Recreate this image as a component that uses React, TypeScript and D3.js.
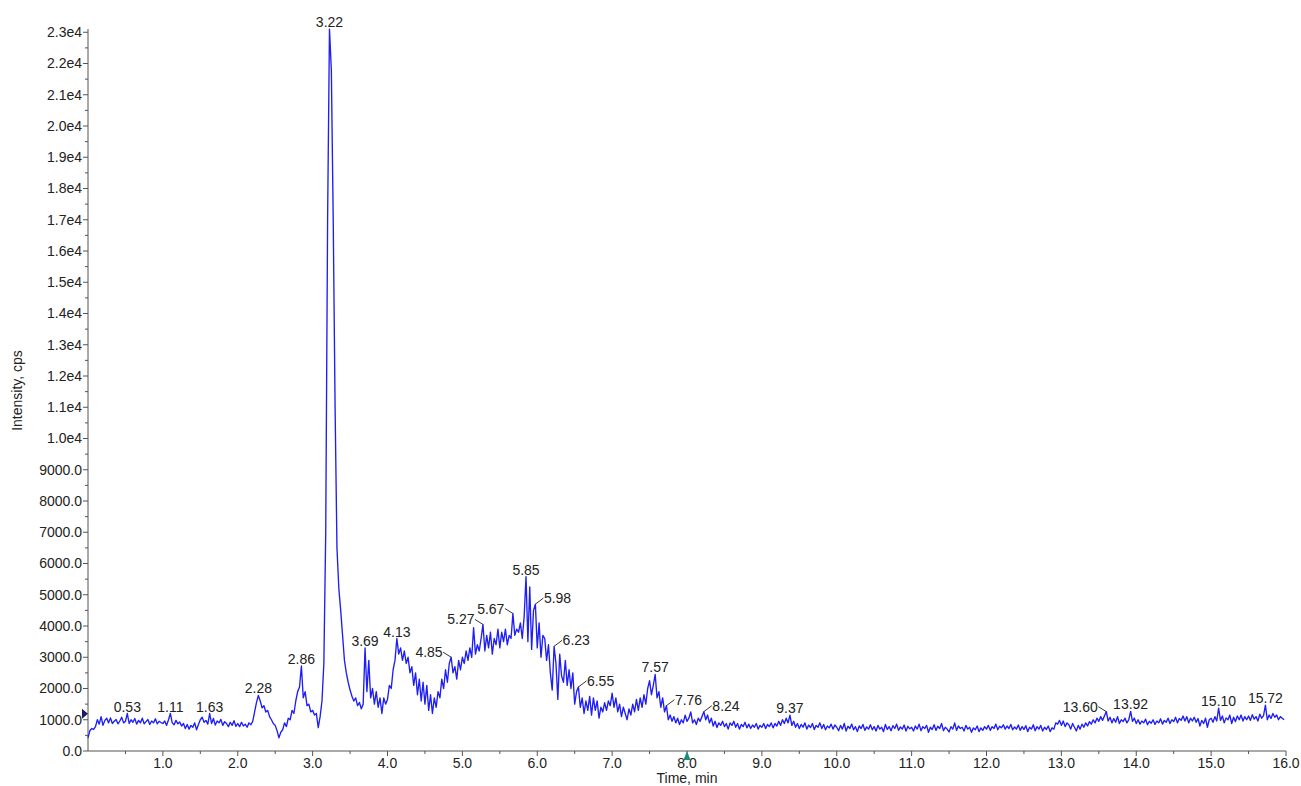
import React from "react";
import * as d3 from "d3";

// Total ion chromatogram: one intensity reading every SCAN_STEP minutes from SCAN_START.
const SCAN_START = 0;
const SCAN_STEP = 0.025;

const intensity: number[] = [
  // 0.0 – 0.475
  420, 650, 720, 690, 780, 1000, 860, 1100, 820, 980, 1050, 900, 1060, 880, 950, 1010, 870, 960, 1080, 900,
  // 0.5 – 0.975
  950, 1200, 880, 1000, 920, 1040, 860, 980, 900, 1050, 870, 940, 1010, 850, 960, 900, 1030, 870, 950, 910,
  // 1.0 – 1.475
  880, 960, 820, 1000, 1200, 900, 840, 980, 870, 930, 800, 880, 720, 850, 700, 820, 760, 900, 680, 850,
  // 1.5 – 1.975
  1000, 1080, 920, 980, 860, 1200, 880, 1040, 830, 960, 900, 1010, 820, 940, 880, 780, 920, 820, 970, 790,
  // 2.0 – 2.475
  880, 780, 920, 800, 860, 760, 900, 840, 950, 1250, 1550, 1780, 1600, 1380, 1450, 1250, 1300, 1100, 1000, 880,
  // 2.5 – 2.975
  820, 650, 420, 600, 680, 900, 780, 1050, 1000, 1300, 1200, 1600, 1900, 2050, 2720, 1700, 1900, 1450, 1500, 1250,
  // 3.0 – 3.475
  1300, 1150, 1200, 750, 1100, 1600, 2800, 7000, 17000, 23100, 21800, 17000, 11000, 6500, 5200, 4500, 3700, 2900, 2500, 2200,
  // 3.5 – 3.975
  1950, 1750, 1600, 1700, 1450, 1550, 1350, 1500, 3300, 1900, 2900, 1700, 2000, 1500, 1900, 1400, 1700, 1200, 1700, 1500,
  // 4.0 – 4.475
  1650, 2100, 2000, 2600, 2900, 3600, 3100, 3300, 2900, 3200, 2800, 3000, 2500, 2700, 2100, 2500, 1800, 2300, 1600, 2200,
  // 4.5 – 4.975
  1500, 2100, 1300, 1800, 1200, 1700, 1400, 1900, 1700, 2300, 2000, 2600, 2200, 2800, 3000, 2500, 2700, 2300, 2900, 2600,
  // 5.0 – 5.475
  3000, 2800, 3200, 2900, 3300, 3000, 3950, 3100, 3400, 3200, 3600, 4050, 3200, 3700, 3300, 3800, 3100, 3600, 3400, 3900,
  // 5.5 – 5.975
  3300, 3800, 3500, 3900, 3400, 3700, 3600, 4400, 3700, 3900, 3800, 4100, 3600, 4300, 5580, 3500, 5250, 3250, 4500, 4700,
  // 6.0 – 6.475
  3300, 4100, 3000, 3700, 3600, 2900, 3400, 2500, 1950, 3350, 2800, 1650, 3100, 2400, 2200, 2900, 2100, 2600, 2000, 2500,
  // 6.5 – 6.975
  1500, 1900, 2050, 1400, 1700, 1200, 1600, 1300, 1750, 1150, 1700, 1300, 1600, 1050, 1400, 1250, 1550, 1300, 1600, 1450,
  // 7.0 – 7.475
  1850, 1400, 1700, 1250, 1500, 1100, 1400, 1200, 1000, 1350, 1150, 1500, 1250, 1650, 1300, 1700, 1400, 1800, 1500, 2000,
  // 7.5 – 7.975
  2250, 1800, 2100, 2450, 1700, 1900, 1400, 1700, 1250, 1450, 1000, 1150, 950, 1100, 900, 1050, 850, 1000, 900, 1150,
  // 8.0 – 8.475
  950, 1050, 1250, 900, 1000, 850, 1050, 950, 1100, 1260, 1000, 1150, 900, 1050, 800, 950, 750, 900, 820, 950,
  // 8.5 – 8.975
  780, 880, 700, 900, 820, 950, 760, 880, 700, 850, 780, 920, 740, 860, 720, 830, 760, 880, 700, 820,
  // 9.0 – 9.475
  760, 880, 720, 850, 780, 900, 740, 880, 800, 950, 820, 1000, 880, 1050, 900, 1150, 820, 950, 760, 880,
  // 9.5 – 9.975
  720, 850, 760, 900, 700, 830, 750, 880, 690, 820, 760, 900, 720, 850, 680, 800, 740, 860, 700, 830,
  // 10.0 – 10.475
  760, 650, 820, 700, 880, 640, 790, 720, 860, 680, 780, 620, 800, 720, 850, 660, 770, 700, 840, 680,
  // 10.5 – 10.975
  780, 640, 820, 700, 760, 620, 850, 690, 780, 650, 810, 720, 860, 660, 770, 700, 830, 640, 790, 710,
  // 11.0 – 11.475
  760, 640, 800, 700, 860, 650, 780, 720, 820, 600, 760, 690, 840, 660, 790, 720, 880, 650, 760, 700,
  // 11.5 – 11.975
  610, 780, 700, 900, 660, 800, 720, 760, 640, 820, 700, 760, 600, 740, 680, 800, 620, 740, 660, 780,
  // 12.0 – 12.475
  700, 820, 660, 780, 720, 860, 680, 790, 740, 840, 700, 800, 720, 850, 680, 770, 700, 830, 660, 780,
  // 12.5 – 12.975
  690, 810, 620, 760, 700, 840, 650, 780, 700, 820, 640, 760, 690, 800, 620, 740, 700, 900, 860, 980,
  // 13.0 – 13.475
  820, 960, 780, 900, 840, 700, 880, 760, 640, 820, 700, 860, 760, 900, 800, 940, 860, 1000, 900, 1050,
  // 13.5 – 13.975
  950, 1100, 980, 1120, 1260, 960, 1080, 900, 1040, 920, 1100, 880, 1000, 940, 1050, 900, 1000, 1270, 950, 1050,
  // 14.0 – 14.475
  880, 1000, 860, 960, 900, 1020, 840, 950, 890, 1000, 850, 960, 900, 1030, 860, 980, 920, 1050, 880, 1000,
  // 14.5 – 14.975
  940, 1080, 900, 1040, 980, 1120, 960, 1100, 900, 1050, 960, 1080, 920, 1040, 800, 980, 880, 1050, 760, 1000,
  // 15.0 – 15.475
  1050, 920, 1100, 960, 1370, 980, 1120, 900, 1060, 1000, 1150, 880, 1080, 940, 1120, 1000, 1150, 960, 1100, 1000,
  // 15.5 – 15.975
  1120, 980, 1160, 1020, 1100, 960, 1180, 1050, 1130, 1470, 1000, 1150, 1040, 1200, 1080, 1150, 1000, 1100, 1050, 1000,
];

// Axis ticks
const xTickValues = [1, 2, 3, 4, 5, 6, 7, 8, 9, 10, 11, 12, 13, 14, 15, 16];
const xMinorTickValues = [0.5, 1.5, 2.5, 3.5, 4.5, 5.5, 6.5, 7.5, 8.5, 9.5, 10.5, 11.5, 12.5, 13.5, 14.5, 15.5];
const yTickValues = [
  0, 1000, 2000, 3000, 4000, 5000, 6000, 7000, 8000, 9000, 10000, 11000,
  12000, 13000, 14000, 15000, 16000, 17000, 18000, 19000, 20000, 21000, 22000, 23000,
];

// Retention times annotated on the trace
const peakLabels = [
  "0.53", "1.11", "1.63", "2.28", "2.86", "3.22", "3.69", "4.13", "5.85",
  "7.57", "9.37", "13.92", "15.10", "15.72",
];
const peakLabelsLeaderLeft = ["4.85", "5.27", "5.67", "13.60"];
const peakLabelsLeaderRight = ["5.98", "6.23", "6.55", "7.76", "8.24"];

// Threshold marker on the intensity axis and cursor marker on the time axis
const thresholdMarker = 1190;
const timeCursor = 8.0;

const FONT = "'Liberation Sans', Arial, sans-serif";
const TEXT = "#222";
const AXIS = "#555";
const TRACE = "#1e1ef5";

export default function App() {
  const width = 1301;
  const height = 786;
  const plotLeft = 88;
  const plotRight = 1286;
  const plotBottom = 751;

  const x = d3.scaleLinear().domain([0, 16]).range([plotLeft, plotRight]);
  const y = d3.scaleLinear().domain([0, 23000]).range([plotBottom, 32.25]);

  const points: [number, number][] = intensity.map((v, i) => [SCAN_START + i * SCAN_STEP, v]);
  const linePath = d3
    .line<[number, number]>()
    .x((d) => x(d[0]))
    .y((d) => y(d[1]))(points) as string;

  // apex of the trace near a labelled retention time
  const apex = (label: string) => {
    const t = +label;
    let best: [number, number] | null = null;
    for (const p of points) {
      if (Math.abs(p[0] - t) <= 0.041 && (!best || p[1] > best[1])) best = p;
    }
    return best as [number, number];
  };

  const yMinor = d3.range(500, 23000, 1000);
  const fmtY = (v: number) => (v < 10000 ? v.toFixed(1) : (v / 10000).toFixed(1) + "e4");

  return (
    <svg
      width={width}
      height={height}
      style={{ position: "absolute", left: 0, top: 0, background: "#fff" }}
      fontFamily={FONT}
    >
      <rect x={0} y={0} width={width} height={height} fill="#fff" />

      {/* intensity axis */}
      <line x1={plotLeft} x2={plotLeft} y1={plotBottom} y2={29} stroke={AXIS} strokeWidth={1} />
      {yTickValues.map((v) => (
        <g key={"yt" + v}>
          <line x1={plotLeft - 5} x2={plotLeft} y1={y(v)} y2={y(v)} stroke={AXIS} strokeWidth={1} />
          <text x={plotLeft - 6} y={y(v)} dy="0.35em" textAnchor="end" fontSize={14} fill={TEXT}>
            {fmtY(v)}
          </text>
        </g>
      ))}
      {yMinor.map((v) => (
        <line key={"ym" + v} x1={plotLeft - 3} x2={plotLeft} y1={y(v)} y2={y(v)} stroke={AXIS} strokeWidth={1} />
      ))}
      <text
        transform={`translate(22, ${(plotBottom + 30) / 2}) rotate(-90)`}
        textAnchor="middle"
        fontSize={14}
        fill={TEXT}
      >
        Intensity, cps
      </text>

      {/* time axis */}
      <line x1={plotLeft} x2={plotRight} y1={plotBottom} y2={plotBottom} stroke={AXIS} strokeWidth={1} />
      {xTickValues.map((t) => (
        <g key={"xt" + t}>
          <line x1={x(t)} x2={x(t)} y1={plotBottom} y2={plotBottom + 5} stroke={AXIS} strokeWidth={1} />
          <text x={x(t)} y={768} textAnchor="middle" fontSize={14} fill={TEXT}>
            {t.toFixed(1)}
          </text>
        </g>
      ))}
      {xMinorTickValues.map((t) => (
        <line key={"xm" + t} x1={x(t)} x2={x(t)} y1={plotBottom} y2={plotBottom + 3} stroke={AXIS} strokeWidth={1} />
      ))}
      <text x={(plotLeft + plotRight) / 2} y={783} textAnchor="middle" fontSize={14} fill={TEXT}>
        Time, min
      </text>

      {/* trace */}
      <path d={linePath} fill="none" stroke={TRACE} strokeWidth={1.35} strokeLinejoin="round" />

      {/* markers */}
      <polygon
        points={`${plotLeft - 6},${y(thresholdMarker) - 5} ${plotLeft - 6},${y(thresholdMarker) + 5} ${plotLeft},${y(thresholdMarker)}`}
        fill="#1c1c5e"
      />
      <polygon
        points={`${x(timeCursor)},${plotBottom} ${x(timeCursor) - 3.5},${plotBottom + 9} ${x(timeCursor) + 3.5},${plotBottom + 9}`}
        fill="#1b8c7e"
      />

      {/* peak annotations */}
      {peakLabels.map((l) => {
        const [t, v] = apex(l);
        return (
          <text key={"pl" + l} x={x(t)} y={y(v) - 2} textAnchor="middle" fontSize={14} fill={TEXT}>
            {l}
          </text>
        );
      })}
      {peakLabelsLeaderLeft.map((l) => {
        const [t, v] = apex(l);
        const ax = x(t);
        const ay = y(v);
        return (
          <g key={"pll" + l}>
            <line x1={ax} y1={ay} x2={ax - 8} y2={ay - 5} stroke="#333" strokeWidth={1} />
            <text x={ax - 8.5} y={ay} textAnchor="end" fontSize={14} fill={TEXT}>
              {l}
            </text>
          </g>
        );
      })}
      {peakLabelsLeaderRight.map((l) => {
        const [t, v] = apex(l);
        const ax = x(t);
        const ay = y(v);
        return (
          <g key={"plr" + l}>
            <line x1={ax} y1={ay} x2={ax + 8} y2={ay - 6} stroke="#333" strokeWidth={1} />
            <text x={ax + 8.5} y={ay - 1} textAnchor="start" fontSize={14} fill={TEXT}>
              {l}
            </text>
          </g>
        );
      })}
    </svg>
  );
}
